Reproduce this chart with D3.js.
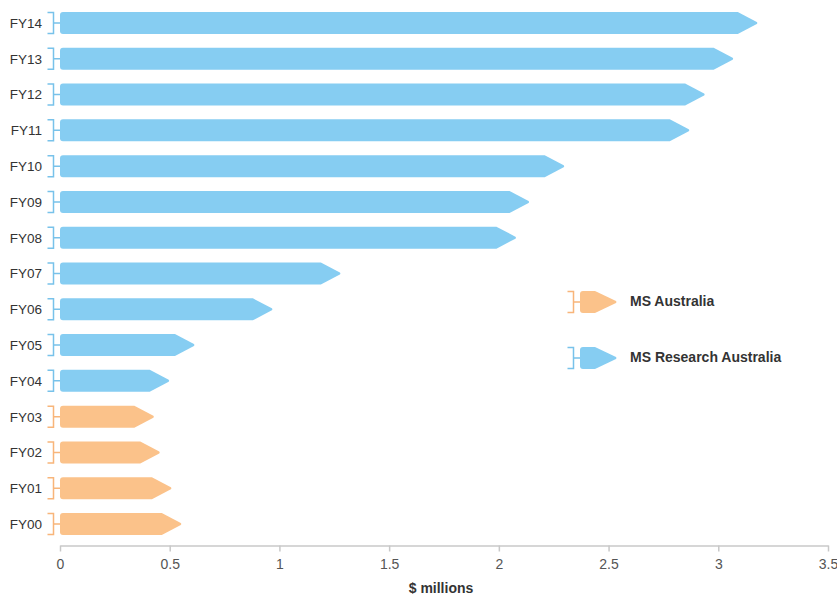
<!DOCTYPE html>
<html>
<head>
<meta charset="utf-8">
<script src="https://cdn.jsdelivr.net/npm/d3@7"></script>
<style>
  html, body { margin: 0; padding: 0; background: #fff; }
  svg { display: block; font-family: "Liberation Sans", Arial, Helvetica, sans-serif; }
</style>
</head>
<body>
<svg id="chart" width="837" height="594"></svg>
<script>
// Funding by financial year, $ millions
const years = ["FY14","FY13","FY12","FY11","FY10","FY09","FY08","FY07","FY06","FY05","FY04","FY03","FY02","FY01","FY00"];
const amounts = [3.18, 3.07, 2.94, 2.87, 2.30, 2.14, 2.08, 1.28, 0.97, 0.615, 0.50, 0.43, 0.457, 0.51, 0.555];
const organisations = ["MS Research Australia","MS Research Australia","MS Research Australia","MS Research Australia","MS Research Australia","MS Research Australia","MS Research Australia","MS Research Australia","MS Research Australia","MS Research Australia","MS Research Australia","MS Australia","MS Australia","MS Australia","MS Australia"];
const legendNames = ["MS Australia", "MS Research Australia"];
const xTicks = [0, 0.5, 1, 1.5, 2, 2.5, 3, 3.5];
const axisTitle = "$ millions";

const fills = { "MS Australia": "#fbc28a", "MS Research Australia": "#86cdf2" };
const brackets = { "MS Australia": "#f8b57a", "MS Research Australia": "#78c2ea" };

const rows = years.map((y, i) => ({ year: y, value: amounts[i], org: organisations[i] }));

const svg = d3.select("#chart");
const x = d3.scaleLinear().domain([0, 3.5]).range([60, 828]);
const y = d3.scalePoint().domain(years).range([23, 524]);
const barH = 22;
const head = 20;
const r = 3;

// Arrow-shaped bar: rounded left corners, pointed right end
function arrowPath(x0, x1, cy, h, hl) {
  const t = cy - h / 2, b = cy + h / 2;
  const s = Math.max(x0 + r, x1 - hl);
  return `M${x0 + r},${t} L${s},${t} L${x1 - 1},${cy - 1} Q${x1},${cy} ${x1 - 1},${cy + 1} L${s},${b} L${x0 + r},${b} Q${x0},${b} ${x0},${b - r} L${x0},${t + r} Q${x0},${t} ${x0 + r},${t} Z`;
}

// Side bracket to the left of each arrow
function bracketPath(xr, cy, h) {
  const t = cy - h / 2 + 0.5, b = cy + h / 2 - 0.5;
  const xv = xr - 6.5, xl = xr - 12.5;
  return `M${xl},${t} L${xv},${t} L${xv},${b} L${xl},${b} M${xv},${cy} L${xr},${cy}`;
}

// x axis
const axis = svg.append("g")
  .attr("transform", "translate(0,545.5)")
  .call(d3.axisBottom(x).tickValues(xTicks).tickFormat(d3.format("~g")).tickSize(6).tickSizeOuter(0));
axis.select(".domain").attr("stroke", "#c8c8c8").attr("stroke-width", 1.5);
axis.selectAll(".tick line").attr("stroke", "#c8c8c8").attr("stroke-width", 1.5);
axis.selectAll(".tick text").attr("fill", "#555").attr("font-size", 14).attr("dy", "1.0em")
  .attr("font-family", "'Liberation Sans', Arial, sans-serif");

svg.append("text")
  .attr("x", 441).attr("y", 592.5)
  .attr("text-anchor", "middle")
  .attr("font-size", 14).attr("font-weight", "bold").attr("fill", "#333")
  .text(axisTitle);

// bars
const g = svg.append("g");
const row = g.selectAll("g.row").data(rows).join("g").attr("class", "row");

row.append("path")
  .attr("d", d => arrowPath(x(0), x(d.value), y(d.year), barH, head))
  .attr("fill", d => fills[d.org]);

row.append("path")
  .attr("d", d => bracketPath(x(0), y(d.year), barH))
  .attr("fill", "none")
  .attr("stroke", d => brackets[d.org])
  .attr("stroke-width", 1.5);

row.append("text")
  .attr("x", 42).attr("y", d => y(d.year))
  .attr("dy", "0.36em")
  .attr("text-anchor", "end")
  .attr("font-size", 13.5).attr("fill", "#333")
  .text(d => d.year);

// legend
const legend = svg.append("g");
const ly = d3.scalePoint().domain(legendNames).range([302, 358]);
const li = legend.selectAll("g").data(legendNames).join("g");
li.append("path")
  .attr("d", d => arrowPath(580, 617, ly(d), barH, 22))
  .attr("fill", d => fills[d]);
li.append("path")
  .attr("d", d => bracketPath(580, ly(d), barH))
  .attr("fill", "none")
  .attr("stroke", d => brackets[d])
  .attr("stroke-width", 1.5);
li.append("text")
  .attr("x", 630).attr("y", d => ly(d) - 1)
  .attr("dy", "0.36em")
  .attr("font-size", 14).attr("font-weight", "bold").attr("fill", "#333")
  .text(d => d);
</script>
</body>
</html>
